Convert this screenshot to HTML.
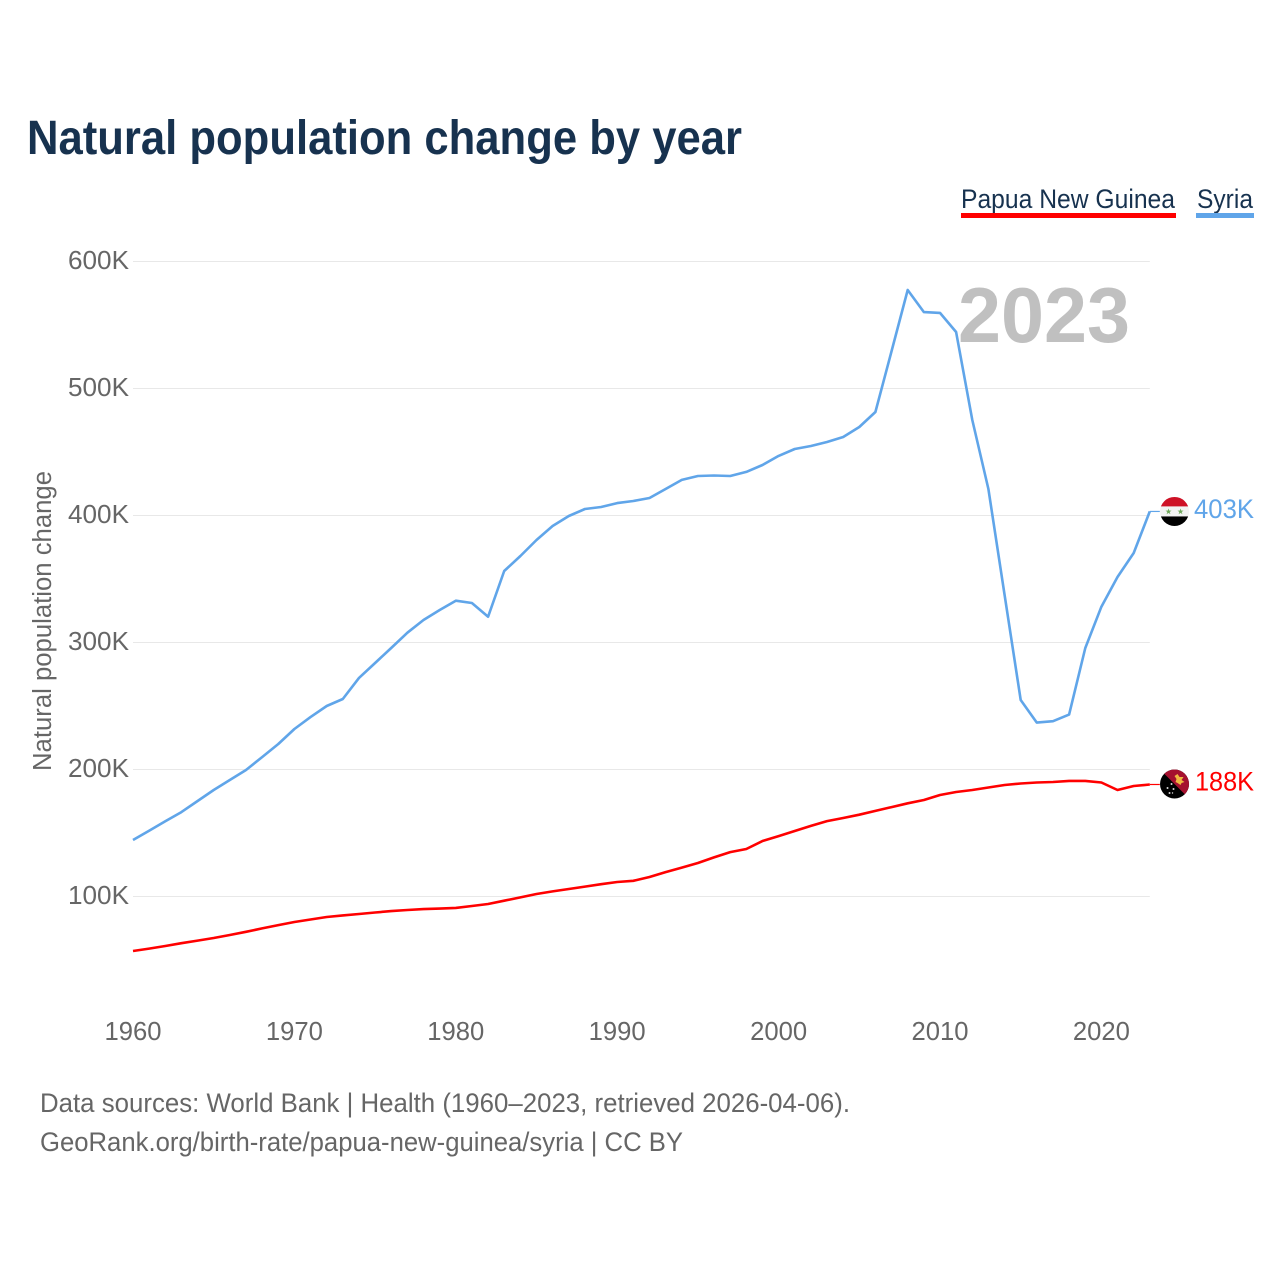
<!DOCTYPE html>
<html lang="en">
<head>
<meta charset="utf-8">
<title>Natural population change by year</title>
<style>
html,body{margin:0;padding:0;background:#fff;width:1280px;height:1280px;overflow:hidden}
svg{display:block}
text{font-family:"Liberation Sans",sans-serif}
</style>
</head>
<body>
<svg id="chart" xmlns="http://www.w3.org/2000/svg" width="1280" height="1280" viewBox="0 0 1280 1280">
  <defs>
    <clipPath id="flag-clip"><circle cx="0" cy="0" r="14.5"/></clipPath>
  </defs>
  <rect x="0" y="0" width="1280" height="1280" fill="#ffffff"/>
  <text x="27" y="154" font-size="48" font-weight="700" fill="#17324f" textLength="715" lengthAdjust="spacingAndGlyphs">Natural population change by year</text>

  <g>
    <g>
      <text x="961" y="208" font-size="26.5" fill="#17324f" textLength="214" lengthAdjust="spacingAndGlyphs">Papua New Guinea</text>
      <rect x="961" y="213" width="215" height="5" fill="#ff0000"/>
    </g>
    <g>
      <text x="1197" y="208" font-size="26.5" fill="#17324f" textLength="56" lengthAdjust="spacingAndGlyphs">Syria</text>
      <rect x="1196" y="213" width="58" height="5" fill="#60a5e9"/>
    </g>
  </g>

  <g id="grid"></g>
  <g id="y-ticks"></g>
  <g id="x-ticks"></g>
  <text transform="translate(51,621) rotate(-90)" text-anchor="middle" font-size="25.5" fill="#666666" textLength="300" lengthAdjust="spacingAndGlyphs">Natural population change</text>
  <text x="958" y="342" font-size="78" font-weight="700" fill="#c0c0c0" textLength="172" lengthAdjust="spacingAndGlyphs">2023</text>
  <g id="series"></g>

  <g id="flag-syria">
    <g clip-path="url(#flag-clip)">
      <rect x="-15" y="-15" width="30" height="10" fill="#ce1126"/>
      <rect x="-15" y="-5" width="30" height="10" fill="#f2f2f2"/>
      <rect x="-15" y="5" width="30" height="10" fill="#000000"/>
      <polygon fill="#6fa85a" points="-6,-3 -5.2,-0.8 -3,-0.8 -4.8,0.6 -4.1,2.8 -6,1.4 -7.9,2.8 -7.2,0.6 -9,-0.8 -6.8,-0.8"/>
      <polygon fill="#6fa85a" points="6,-3 6.8,-0.8 9,-0.8 7.2,0.6 7.9,2.8 6,1.4 4.1,2.8 4.8,0.6 3,-0.8 5.2,-0.8"/>
    </g>
  </g>
  <g id="flag-png">
    <g clip-path="url(#flag-clip)">
      <rect x="-15" y="-15" width="30" height="30" fill="#000000"/>
      <polygon points="-15,-15 15,-15 15,15" fill="#a5112f"/>
      <polygon fill="#f0b840" points="0,-8 3,-10 5,-7 9,-7 7,-4 10,-2 7,-1 6,1 3,-1 1,-2 2,-5"/>
      <circle cx="-3" cy="0" r="1" fill="#d8d8d8"/>
      <circle cx="-7" cy="4" r="1" fill="#d8d8d8"/>
      <circle cx="-1" cy="5" r="1" fill="#d8d8d8"/>
      <circle cx="-5" cy="9" r="1" fill="#d8d8d8"/>
      <circle cx="-2" cy="9" r="0.7" fill="#d8d8d8"/>
    </g>
  </g>
  <text id="label-syria" x="1194" font-size="26.5" fill="#60a5e9" textLength="60" lengthAdjust="spacingAndGlyphs"></text>
  <text id="label-png" x="1195" font-size="26.5" fill="#ff0000" textLength="59" lengthAdjust="spacingAndGlyphs"></text>

  <text x="40" y="1112" font-size="26.5" fill="#666666" textLength="810" lengthAdjust="spacingAndGlyphs">Data sources: World Bank | Health (1960–2023, retrieved 2026-04-06).</text>
  <text x="40" y="1151" font-size="26.5" fill="#666666" textLength="643" lengthAdjust="spacingAndGlyphs">GeoRank.org/birth-rate/papua-new-guinea/syria | CC BY</text>
</svg>
<script>
const startYear = 1960;
const yTickValues = [100, 200, 300, 400, 500, 600];
const yTickLabels = ["100K", "200K", "300K", "400K", "500K", "600K"];
const xTickYears = [1960, 1970, 1980, 1990, 2000, 2010, 2020];
const xTickLabels = ["1960", "1970", "1980", "1990", "2000", "2010", "2020"];
const syriaValues = [144.1, 151.4, 158.8, 166.1, 174.8, 183.5, 191.3, 199.2, 209.4, 219.7,
  231.5, 240.9, 249.6, 255.1, 271.7, 283.5, 295.3, 307.3, 317.3, 325.2,
  332.5, 330.7, 319.9, 355.9, 367.7, 380.3, 391.3, 399.2, 404.7, 406.3,
  409.4, 411, 413.4, 420.5, 427.6, 430.7, 431.1, 430.7, 433.9, 439.4,
  446.5, 452, 454.3, 457.5, 461.4, 469.3, 481.1, 529.1, 577.2, 559.8,
  559.1, 544.1, 474.8, 420.5, 337, 254.3, 236.5, 237.6, 242.8, 295.3,
  327.8, 351.2, 370.1, 402.8];
const pngValues = [56.7, 58.6, 60.6, 62.8, 64.9, 66.9, 69.3, 71.8, 74.5, 77.1,
  79.5, 81.5, 83.5, 84.7, 85.8, 87, 88.1, 89, 89.7, 90.1,
  90.6, 92.1, 93.7, 96.3, 98.9, 101.6, 103.6, 105.5, 107.4, 109.3,
  111, 112, 115, 118.8, 122.4, 126, 130.4, 134.6, 137, 143.3,
  147.2, 151.2, 155.2, 159, 161.4, 164, 167, 170, 173, 175.6,
  179.5, 181.9, 183.5, 185.4, 187.4, 188.6, 189.4, 189.8, 190.6, 190.6,
  189.4, 183.5, 186.6, 187.8];

const xScale = function (year) { return 133 + (year - 1960) * 16.14; };
const yScale = function (value) { return 896 - (value - 100) * 1.27; };
const NS = "http://www.w3.org/2000/svg";
const gridLayer = document.getElementById("grid");
const yTickLayer = document.getElementById("y-ticks");
const xTickLayer = document.getElementById("x-ticks");
const seriesLayer = document.getElementById("series");

yTickValues.forEach(function (value, i) {
  const line = document.createElementNS(NS, "line");
  
  
  line.setAttribute("x1", 133);
  line.setAttribute("x2", xScale(2023));
  line.setAttribute("y1", yScale(value) + 0.5);
  line.setAttribute("y2", yScale(value) + 0.5);
  line.setAttribute("stroke", "#e8e8e8");
  line.setAttribute("stroke-width", "1");
  gridLayer.appendChild(line);

  const label = document.createElementNS(NS, "text");
  
  
  label.setAttribute("x", 68);
  label.setAttribute("y", yScale(value) + 8);
  label.setAttribute("font-size", "25.5");
  label.setAttribute("fill", "#666666");
  label.setAttribute("textLength", "61");
  label.setAttribute("lengthAdjust", "spacingAndGlyphs");
  label.textContent = yTickLabels[i];
  yTickLayer.appendChild(label);
});

xTickYears.forEach(function (year, i) {
  const label = document.createElementNS(NS, "text");
  
  
  label.setAttribute("x", xScale(year) - 28.5);
  label.setAttribute("y", 1040);
  label.setAttribute("font-size", "25.5");
  label.setAttribute("fill", "#666666");
  label.setAttribute("textLength", "57");
  label.setAttribute("lengthAdjust", "spacingAndGlyphs");
  label.textContent = xTickLabels[i];
  xTickLayer.appendChild(label);
});

function linePoints(values) {
  return values.map(function (value, i) {
    return xScale(startYear + i).toFixed(1) + "," + yScale(value).toFixed(1);
  }).join(" ");
}

function lastOf(values) { return values[values.length - 1]; }

const pngLine = document.createElementNS(NS, "polyline");


pngLine.setAttribute("points", linePoints(pngValues));
pngLine.setAttribute("fill", "none");
pngLine.setAttribute("stroke", "#ff0000");
pngLine.setAttribute("stroke-width", "2.6");
pngLine.setAttribute("stroke-linejoin", "round");
seriesLayer.appendChild(pngLine);

const syriaLine = document.createElementNS(NS, "polyline");


syriaLine.setAttribute("points", linePoints(syriaValues));
syriaLine.setAttribute("fill", "none");
syriaLine.setAttribute("stroke", "#60a5e9");
syriaLine.setAttribute("stroke-width", "2.6");
syriaLine.setAttribute("stroke-linejoin", "round");
seriesLayer.appendChild(syriaLine);

const lastX = xScale(startYear + syriaValues.length - 1);

const pngLead = document.createElementNS(NS, "line");


pngLead.setAttribute("x1", lastX);
pngLead.setAttribute("x2", lastX + 10);
pngLead.setAttribute("y1", yScale(lastOf(pngValues)));
pngLead.setAttribute("y2", yScale(lastOf(pngValues)));
pngLead.setAttribute("stroke", "#ff0000");
pngLead.setAttribute("stroke-width", "1.2");
seriesLayer.appendChild(pngLead);

const syriaLead = document.createElementNS(NS, "line");


syriaLead.setAttribute("x1", lastX);
syriaLead.setAttribute("x2", lastX + 10);
syriaLead.setAttribute("y1", yScale(lastOf(syriaValues)));
syriaLead.setAttribute("y2", yScale(lastOf(syriaValues)));
syriaLead.setAttribute("stroke", "#60a5e9");
syriaLead.setAttribute("stroke-width", "1.2");
seriesLayer.appendChild(syriaLead);

const flagX = lastX + 24.7;
document.getElementById("flag-syria").setAttribute("transform", "translate(" + flagX + "," + yScale(lastOf(syriaValues)) + ")");
document.getElementById("flag-png").setAttribute("transform", "translate(" + flagX + "," + (yScale(lastOf(pngValues)) - 0.5) + ")");

const labelSyria = document.getElementById("label-syria");
labelSyria.setAttribute("y", yScale(lastOf(syriaValues)) + 6.5);
labelSyria.textContent = Math.round(lastOf(syriaValues)) + "K";
const labelPng = document.getElementById("label-png");
labelPng.setAttribute("y", yScale(lastOf(pngValues)) + 6);
labelPng.textContent = Math.round(lastOf(pngValues)) + "K";
</script>
</body>
</html>
